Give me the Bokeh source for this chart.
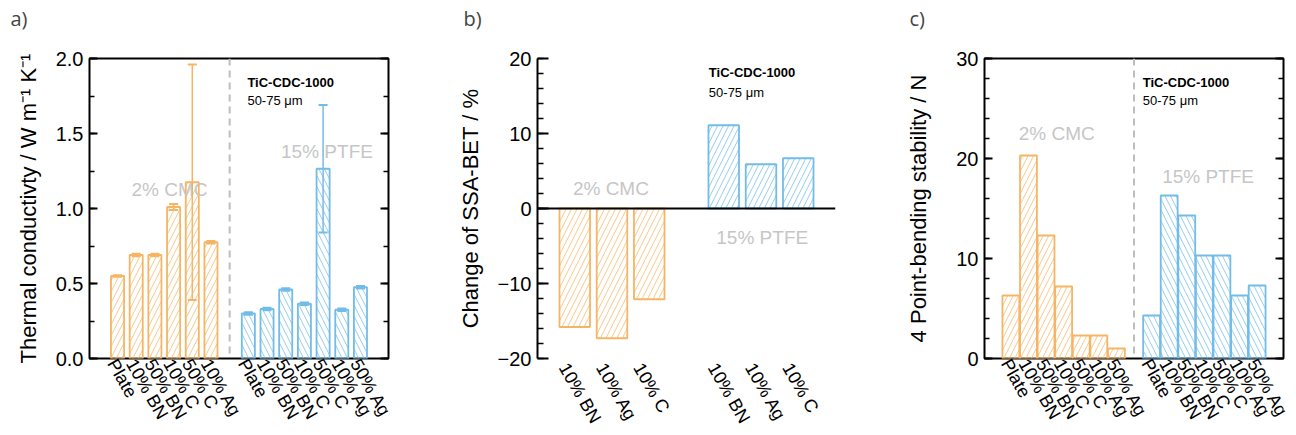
import numpy as np
from bokeh.plotting import figure
from bokeh.layouts import row
from bokeh.models import (FixedTicker, SingleIntervalTicker, Span, Label, LinearAxis, Title,
                          CustomJSTickFormatter, Whisker, TeeHead, ColumnDataSource, Range1d)
from bokeh.embed import file_html
from bokeh.resources import INLINE

FONT = "Liberation Sans"
ORANGE = "#F5B565"
BLUE = "#72BCE8"
GRAY = "#C6C6C6"

# ---------------- data ----------------
# a) thermal conductivity
a_cmc_labels = ["Plate", "10% BN", "50% BN", "10% C", "50% C", "10% Ag"]
a_cmc_values = [0.55, 0.69, 0.69, 1.01, 1.175, 0.775]
a_cmc_err = [0.005, 0.008, 0.008, 0.02, 0.785, 0.008]
a_ptfe_labels = ["Plate", "10% BN", "50% BN", "10% C", "50% C", "10% Ag", "50% Ag"]
a_ptfe_values = [0.30, 0.33, 0.46, 0.365, 1.265, 0.325, 0.475]
a_ptfe_err = [0.008, 0.008, 0.008, 0.008, 0.425, 0.008, 0.008]

# b) change of SSA-BET
b_labels = ["10% BN", "10% Ag", "10% C"]
b_cmc_values = [-15.8, -17.3, -12.1]
b_ptfe_values = [11.1, 5.9, 6.7]

# c) 4 point-bending stability
c_labels = ["Plate", "10% BN", "50% BN", "10% C", "50% C", "10% Ag", "50% Ag"]
c_cmc_values = [6.3, 20.3, 12.3, 7.2, 2.3, 2.3, 1.0]
c_ptfe_values = [4.3, 16.3, 14.3, 10.3, 10.3, 6.3, 7.3]

H = 435
LABEL_ANGLE = -1.05
LABEL_SHIFT = -0.3   # visual shift of the rotated category labels


def base_fig(width, x_range, y_range, left, right, top, bottom, letter, letter_x):
    p = figure(width=width, height=H, x_range=x_range, y_range=y_range,
               output_backend="svg", toolbar_location=None, title=None,
               min_border_left=left, min_border_right=right,
               min_border_top=top, min_border_bottom=bottom)
    p.xgrid.visible = False
    p.ygrid.visible = False
    p.background_fill_color = "white"
    p.border_fill_color = "white"
    xb = p.below[0]
    # the trailing line break lifts the panel letter away from the frame
    t = Title(text=letter + "\n", align="left", offset=letter_x - left, text_font="Open Sans",
              text_font_size="20px", text_font_style="normal", standoff=0)
    p.add_layout(t, "above")
    return p, xb


def style_y(ax, major_in, minor_in):
    ax.major_tick_in = major_in
    ax.major_tick_out = 0
    ax.minor_tick_in = minor_in
    ax.minor_tick_out = 0
    ax.major_tick_line_width = 2
    ax.minor_tick_line_width = 1.5
    ax.major_label_text_font = FONT
    ax.major_label_text_font_size = "20px"
    ax.major_label_text_color = "black"
    ax.axis_label_text_font = FONT
    ax.axis_label_text_font_size = "22px"
    ax.axis_label_text_font_style = "normal"
    ax.axis_label_text_color = "black"
    ax.major_label_standoff = 6


def style_x(ax, ticks, labels, standoff):
    tick_pos = [float(t) + LABEL_SHIFT for t in ticks]
    ax.ticker = FixedTicker(ticks=tick_pos)
    ax.major_label_overrides = {t: l for t, l in zip(tick_pos, labels)}
    ax.axis_line_color = None
    ax.major_tick_line_color = None
    ax.minor_tick_line_color = None
    ax.major_tick_in = 0
    ax.major_tick_out = 0
    ax.minor_tick_in = 0
    ax.minor_tick_out = 0
    ax.axis_label_standoff = 0
    ax.major_label_orientation = LABEL_ANGLE
    ax.major_label_text_font = FONT
    ax.major_label_text_font_size = "18px"
    ax.major_label_text_color = "black"
    ax.major_label_standoff = standoff


def add_right_axis(p, ticker, major_in, minor_in):
    ax = LinearAxis(ticker=ticker, formatter=CustomJSTickFormatter(code="return ''"))
    ax.axis_line_color = None
    ax.major_tick_in = major_in
    ax.major_tick_out = 0
    ax.minor_tick_in = minor_in
    ax.minor_tick_out = 0
    ax.major_tick_line_width = 2
    ax.minor_tick_line_width = 1.5
    ax.major_label_standoff = 0
    ax.axis_label_standoff = 0
    p.add_layout(ax, "right")


def bars(p, x, top, color, pattern, width):
    p.vbar(x=x, top=top, bottom=0, width=width, fill_color=None,
           line_color=color, line_width=1.8,
           hatch_pattern=pattern, hatch_color=color, hatch_scale=11,
           hatch_weight=0.9, hatch_alpha=0.85)


def texts(p, items):
    for (x, y, t, color, size, style) in items:
        p.add_layout(Label(x=x, y=y, text=t, text_color=color, text_font=FONT,
                           text_font_size=size, text_font_style=style,
                           text_baseline="middle", text_align="left"))


# ---------------- panel a ----------------
a_cmc_x = np.arange(len(a_cmc_values))
a_ptfe_x = np.arange(len(a_ptfe_values)) + len(a_cmc_values) + 1
a_sep = len(a_cmc_values)

pa, xa = base_fig(430, Range1d(-1.5, a_ptfe_x[-1] + 1.5), Range1d(0, 2.0), 89, 42, 58, 77, "a)", 10)
pa.outline_line_color = "black"
pa.outline_line_width = 2
ya = pa.yaxis[0]
ya.ticker = SingleIntervalTicker(interval=0.5, num_minor_ticks=2)
ya.axis_line_color = None
ya.formatter = CustomJSTickFormatter(code="return tick.toFixed(1)")
ya.axis_label = "Thermal conductivty / W m\u207b\u00b9 K\u207b\u00b9"
style_y(ya, 8, 5)
ya.axis_label_standoff = 12
add_right_axis(pa, SingleIntervalTicker(interval=0.5, num_minor_ticks=2), 8, 5)
style_x(xa, list(a_cmc_x) + list(a_ptfe_x), a_cmc_labels + a_ptfe_labels, 2)

bars(pa, a_cmc_x, a_cmc_values, ORANGE, "/", 0.7)
bars(pa, a_ptfe_x, a_ptfe_values, BLUE, "\\", 0.7)
for xs, vals, errs, col in [(a_cmc_x, a_cmc_values, a_cmc_err, ORANGE),
                            (a_ptfe_x, a_ptfe_values, a_ptfe_err, BLUE)]:
    v = np.array(vals)
    e = np.array(errs)
    src = ColumnDataSource(dict(x=xs, upper=v + e, lower=v - e))
    pa.add_layout(Whisker(base="x", upper="upper", lower="lower", source=src,
                          line_color=col, line_width=1.5,
                          upper_head=TeeHead(size=9, line_color=col, line_width=2),
                          lower_head=TeeHead(size=9, line_color=col, line_width=2)))
pa.add_layout(Span(location=a_sep, dimension="height", line_color="#BDBDBD",
                   line_width=2, line_dash="7 5"))
texts(pa, [(0.75, 1.13, "2% CMC", GRAY, "19px", "normal"),
           (8.75, 1.38, "15% PTFE", GRAY, "19px", "normal"),
           (6.95, 1.84, "TiC-CDC-1000", "black", "13px", "bold"),
           (6.95, 1.72, "50-75 \u03bcm", "black", "13px", "normal")])

# ---------------- panel b ----------------
b_cmc_x = np.arange(len(b_cmc_values))
b_ptfe_x = np.arange(len(b_ptfe_values)) + len(b_cmc_values) + 1

pb, xbx = base_fig(430, Range1d(-1, b_ptfe_x[-1] + 1), Range1d(-20, 20), 107, 25, 58, 77, "b)", 33)
pb.outline_line_color = None
yb = pb.yaxis[0]
yb.ticker = SingleIntervalTicker(interval=10, num_minor_ticks=5)
yb.axis_line_width = 2
yb.axis_label = "Change of SSA-BET / %"
style_y(yb, 11, 6)
yb.axis_label_standoff = 12
style_x(xbx, list(b_cmc_x) + list(b_ptfe_x), b_labels + b_labels, 6)

bars(pb, b_cmc_x, b_cmc_values, ORANGE, "/", 0.82)
bars(pb, b_ptfe_x, b_ptfe_values, BLUE, "/", 0.82)
pb.add_layout(Span(location=0, dimension="width", line_color="black", line_width=2))
texts(pb, [(-0.05, 2.7, "2% CMC", GRAY, "19px", "normal"),
           (3.8, -3.8, "15% PTFE", GRAY, "19px", "normal"),
           (3.6, 18.1, "TiC-CDC-1000", "black", "13px", "bold"),
           (3.6, 15.5, "50-75 \u03bcm", "black", "13px", "normal")])

# ---------------- panel c ----------------
c_cmc_x = np.arange(len(c_cmc_values))
c_ptfe_x = np.arange(len(c_ptfe_values)) + len(c_cmc_values) + 1
c_sep = len(c_cmc_values)

pc, xc = base_fig(436, Range1d(-1.5, c_ptfe_x[-1] + 1.5), Range1d(0, 30), 124, 13, 58, 77, "c)", 49)
pc.outline_line_color = "black"
pc.outline_line_width = 2
yc = pc.yaxis[0]
yc.ticker = SingleIntervalTicker(interval=10, num_minor_ticks=5)
yc.axis_line_color = None
yc.axis_label = "4 Point-bending stability / N"
style_y(yc, 8, 5)
yc.axis_label_standoff = 22
add_right_axis(pc, SingleIntervalTicker(interval=10, num_minor_ticks=5), 8, 5)
style_x(xc, list(c_cmc_x) + list(c_ptfe_x), c_labels + c_labels, 2)

bars(pc, c_cmc_x, c_cmc_values, ORANGE, "/", 0.96)
bars(pc, c_ptfe_x, c_ptfe_values, BLUE, "\\", 0.96)
pc.add_layout(Span(location=c_sep, dimension="height", line_color="#BDBDBD",
                   line_width=2, line_dash="7 5"))
texts(pc, [(0.45, 22.5, "2% CMC", GRAY, "19px", "normal"),
           (8.6, 18.2, "15% PTFE", GRAY, "19px", "normal"),
           (7.5, 27.6, "TiC-CDC-1000", "black", "13px", "bold"),
           (7.5, 25.8, "50-75 \u03bcm", "black", "13px", "normal")])

layout = row(pa, pb, pc)
open("out.html", "w").write(file_html(layout, INLINE))
